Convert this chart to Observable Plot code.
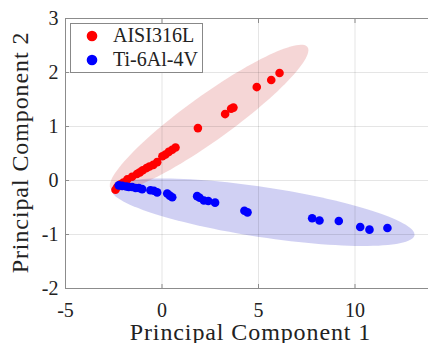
<!DOCTYPE html>
<html><head><meta charset="utf-8">
<script src="https://cdn.jsdelivr.net/npm/d3@7"></script>
<script src="https://cdn.jsdelivr.net/npm/@observablehq/plot@0.6"></script>
<style>
html,body{margin:0;padding:0;overflow:hidden;background:#fff;}
#chart{position:relative;width:428px;height:343px;overflow:hidden;}
#chart svg{max-width:none !important;}
#chart svg, #chart svg text{font-family:'Liberation Serif','Times New Roman','DejaVu Serif',serif !important;}
</style></head><body><div id="chart"></div>
<script>
const seriesNames = ["AISI316L", "Ti-6Al-4V"];
const seriesColors = ["#ff0000", "#0000ff"];

const aisiX = [6.09, 5.66, 4.91, 3.70, 3.58, 3.27, 1.86, 0.70, 0.53, 0.35, 0.18, 0.02, -0.25, -0.45, -0.65, -0.80, -1.00, -1.15, -1.30, -1.55, -1.80, -2.00, -2.15, -2.32, -2.41];
const aisiY = [1.99, 1.86, 1.73, 1.35, 1.33, 1.23, 0.97, 0.61, 0.57, 0.53, 0.48, 0.45, 0.34, 0.29, 0.26, 0.23, 0.19, 0.15, 0.12, 0.07, 0.02, -0.04, -0.07, -0.12, -0.17];

const tiX = [-2.24, -2.06, -1.85, -1.72, -1.55, -1.37, -1.20, -1.03, -0.60, -0.42, -0.25, 0.27, 0.40, 0.53, 1.82, 1.95, 2.17, 2.40, 2.75, 4.27, 4.43, 7.78, 8.16, 9.16, 10.27, 10.75, 11.68];
const tiY = [-0.09, -0.10, -0.11, -0.12, -0.12, -0.14, -0.14, -0.16, -0.18, -0.19, -0.22, -0.24, -0.28, -0.31, -0.29, -0.32, -0.37, -0.38, -0.41, -0.56, -0.59, -0.70, -0.74, -0.75, -0.86, -0.91, -0.88];

const xTicks = [-5, 0, 5, 10];
const yTicks = [-2, -1, 0, 1, 2, 3];
const xLabel = "Principal Component 1";
const yLabel = "Principal Component 2";

// confidence ellipses: centre, major half-axis vector, minor half-axis vector (data units)
const aisiEllipse = {cx: 2.44, cy: 1.16, ax: 5.10, ay: 1.31, bx: 0.68, by: -0.34};
const tiEllipse = {cx: 5.23, cy: -0.587, ax: 7.85, ay: -0.426, bx: -0.194, by: -0.458};

const aisi = aisiX.map((x, i) => ({x, y: aisiY[i]}));
const ti = tiX.map((x, i) => ({x, y: tiY[i]}));
const ell = e => d3.range(0, 121).map(i => {
  const t = 2 * Math.PI * i / 120;
  return {x: e.cx + Math.cos(t) * e.ax + Math.sin(t) * e.bx,
          y: e.cy + Math.cos(t) * e.ay + Math.sin(t) * e.by};
});

const W = 460;
const axisColor = "#8c8c8c";
const fmt = d => String(d);
const plot = Plot.plot({
  width: W, height: 343,
  marginLeft: 65, marginTop: 18, marginBottom: 55, marginRight: W - 431.7,
  x: {domain: [-5, 14]},
  y: {domain: [-2, 3]},
  style: {fontSize: "20px", color: "#000", background: "transparent", overflow: "visible", maxWidth: "none"},
  marks: [
    Plot.line(ell(tiEllipse), {x: "x", y: "y", fill: "rgb(51,51,204)", fillOpacity: 0.23, stroke: "none"}),
    Plot.line(ell(aisiEllipse), {x: "x", y: "y", fill: "rgb(204,51,51)", fillOpacity: 0.2, stroke: "none"}),
    Plot.gridX(xTicks, {stroke: "#000", strokeOpacity: 0.1}),
    Plot.gridY(yTicks, {stroke: "#000", strokeOpacity: 0.1}),
    Plot.dot(aisi, {x: "x", y: "y", r: 4.3, fill: seriesColors[0], stroke: "none"}),
    Plot.dot(ti, {x: "x", y: "y", r: 4.3, fill: seriesColors[1], stroke: "none"}),
    Plot.frame({stroke: axisColor}),
    Plot.axisX(xTicks, {anchor: "bottom", tickSize: 0, tickPadding: 14, label: null, fontSize: 20, tickFormat: fmt, fill: "#222"}),
    Plot.axisY(yTicks, {anchor: "left", tickSize: 0, tickPadding: 7, label: null, fontSize: 20, tickFormat: fmt, fill: "#222"}),
    Plot.axisX(xTicks, {anchor: "bottom", tickSize: -4, tickFormat: () => "", label: null, stroke: axisColor}),
    Plot.axisX(xTicks, {anchor: "top", tickSize: -4, tickFormat: () => "", label: null, stroke: axisColor}),
    Plot.axisY(yTicks, {anchor: "left", tickSize: -4, tickFormat: () => "", label: null, stroke: axisColor}),
    Plot.text([xLabel], {frameAnchor: "bottom", textAnchor: "middle", dx: 1.6, dy: 51, lineAnchor: "bottom", fontSize: 24, fill: "#222"}),
    Plot.text([yLabel], {frameAnchor: "left", textAnchor: "middle", rotate: -90, dx: -38, dy: -1, lineAnchor: "bottom", fontSize: 24, fill: "#222"})
  ]
});

d3.select(plot).selectAll("text")
  .filter(function() { return this.textContent === xLabel || this.textContent === yLabel; })
  .attr("letter-spacing", "0.9");

// legend
const svg = d3.select(plot);
const lg = svg.append("g").attr("font-size", 20).attr("text-anchor", "start");
lg.append("rect").attr("x", 70.5).attr("y", 23.5).attr("width", 132).attr("height", 49)
  .attr("fill", "#fff").attr("stroke", "#888").attr("stroke-width", 1);
seriesNames.forEach((name, i) => {
  lg.append("circle").attr("cx", 92).attr("cy", 36 + i * 24).attr("r", 5.3).attr("fill", seriesColors[i]);
  lg.append("text").attr("x", 113).attr("y", 42 + i * 23.5).attr("fill", "#222").text(name);
});

document.getElementById("chart").appendChild(plot);
</script></body></html>
